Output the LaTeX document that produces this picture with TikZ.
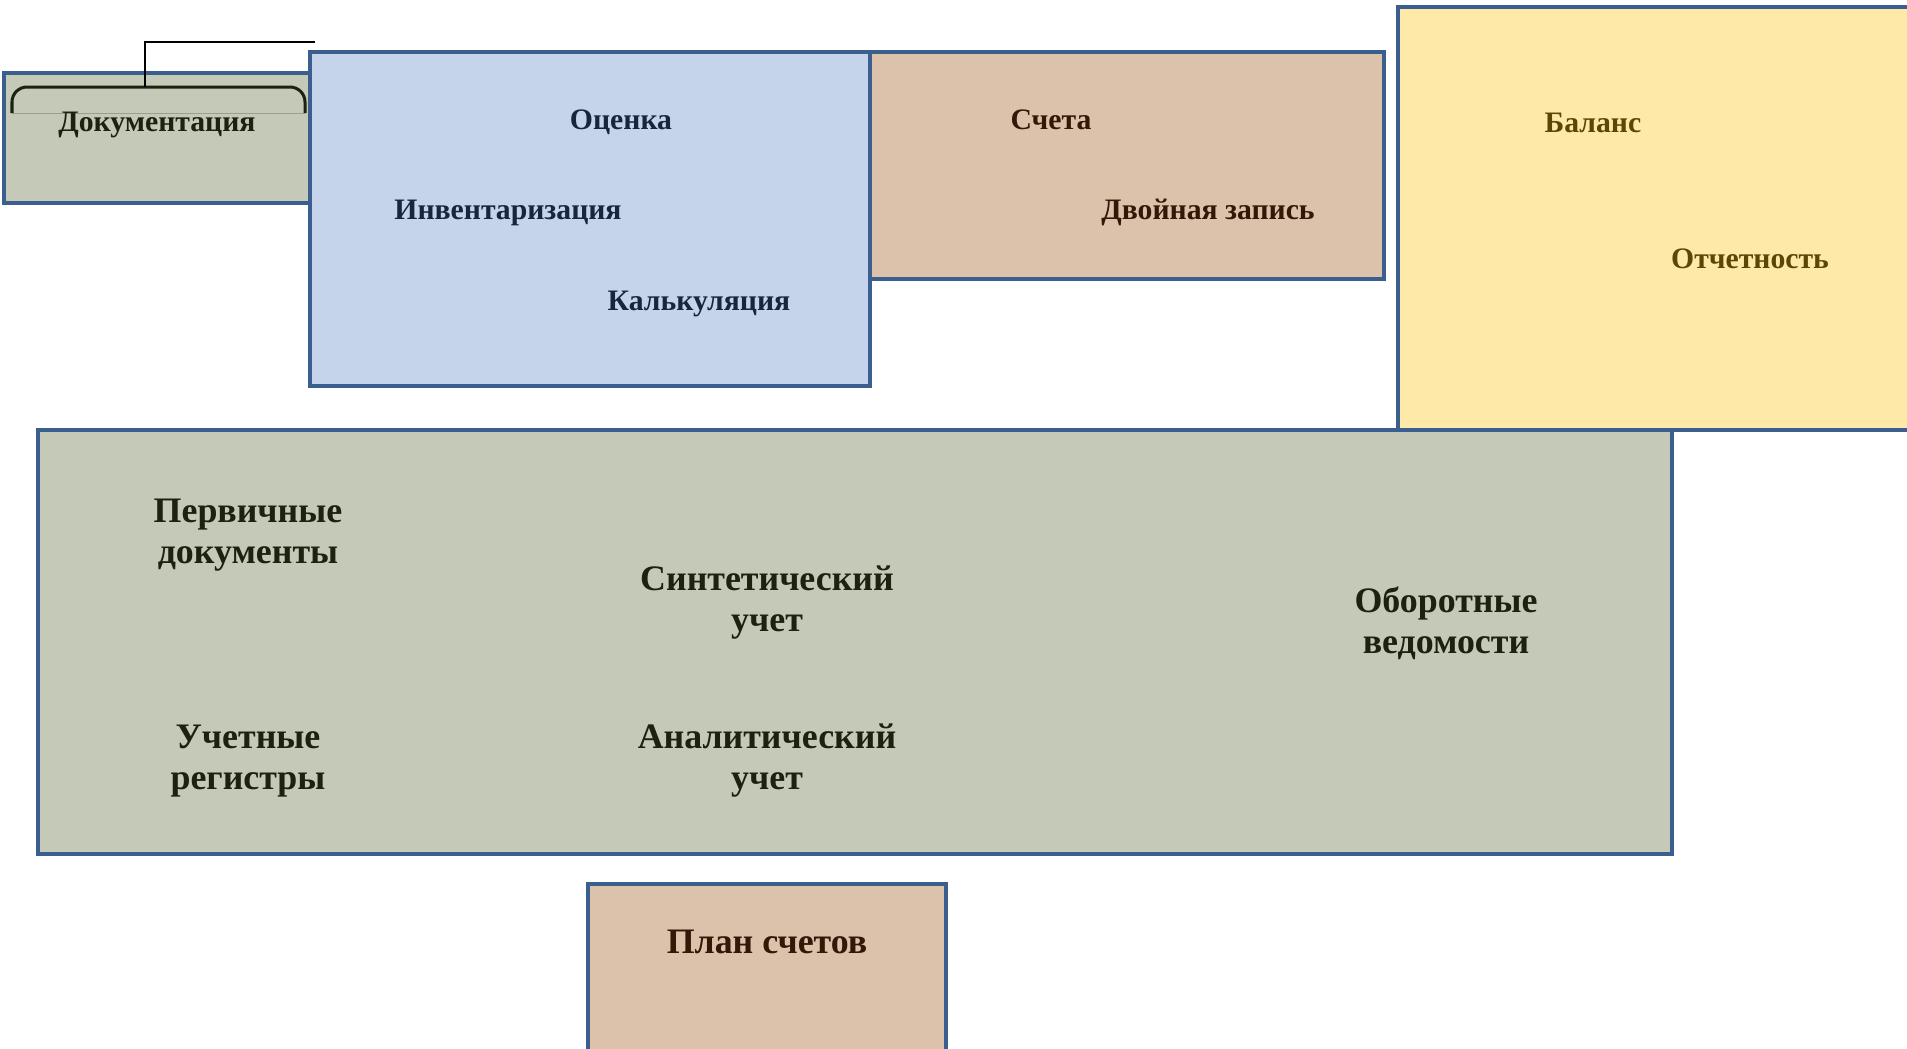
\documentclass[tikz,border=0pt]{standalone}
\usepackage{fontspec}
\setmainfont{Liberation Serif}
\definecolor{bord}{HTML}{3A5F8E}
\definecolor{fgreen}{HTML}{C5C9B7}
\definecolor{fblue}{HTML}{C5D4EA}
\definecolor{ftan}{HTML}{DCC1AB}
\definecolor{fyel}{HTML}{FFE9A8}
\definecolor{tgreen}{HTML}{1C2212}
\definecolor{tblue}{HTML}{17263D}
\definecolor{tbrown}{HTML}{331808}
\definecolor{tyel}{HTML}{5A4708}
\definecolor{thinln}{HTML}{9AA08A}
\begin{document}
\begin{tikzpicture}[x=0.01cm,y=-0.01cm,
  panel/.style={draw=bord, line width=0.04cm, rectangle, inner sep=0pt, outer sep=0pt},
  small/.style={font=\bfseries\fontsize{8.45}{10}\selectfont, inner sep=0pt, anchor=base},
  big/.style={font=\bfseries\fontsize{10.2}{11.7}\selectfont, align=center, inner sep=0pt, text height=0.7em, text depth=0.25em}]
\useasboundingbox (0,0) rectangle (1907,1048);
\clip (0,0) rectangle (1907,1048);
% panels
\node[panel, fill=fgreen, minimum width=16.33cm, minimum height=4.24cm] (main) at (854.5,642) {};
\node[panel, fill=fyel, minimum width=5.27cm, minimum height=4.23cm] (yel) at (1661.5,218.5) {};
\node[panel, fill=fgreen, minimum width=3.06cm, minimum height=1.30cm] (doc) at (157,138) {};
\node[panel, fill=fblue, minimum width=5.60cm, minimum height=3.34cm] (blue) at (590,219) {};
\node[panel, fill=ftan, minimum width=5.14cm, minimum height=2.27cm] (tan) at (1127,165.5) {};
\node[panel, fill=ftan, minimum width=3.58cm, minimum height=1.86cm] (plan) at (767,977) {};
% bracket
\coordinate (brl) at (12,113);
\coordinate (brr) at (305,113);
\coordinate (brtop) at (145,87);
\coordinate (lineend) at (315,42);
\draw[line width=0.01cm, thinln] (brl) -- (brr);
\draw[line width=0.03cm, tgreen, rounded corners=0.15cm] (brl) -- (12,87) -- (305,87) -- (brr);
\draw[line width=0.025cm, black] (brtop) -- (145,42) -- (lineend);
% texts
\node[small, text=tgreen] (t1) at (157,131) {Документация};
\node[small, text=tblue] (t2) at (621,129) {Оценка};
\node[small, text=tblue] (t3) at (508,219) {Инвентаризация};
\node[small, text=tblue] (t4) at (699,310) {Калькуляция};
\node[small, text=tbrown] (t5) at (1051,129) {Счета};
\node[small, text=tbrown] (t6) at (1208,219) {Двойная запись};
\node[small, text=tyel] (t7) at (1593,132) {Баланс};
\node[small, text=tyel] (t8) at (1750,268) {Отчетность};
\node[big, text=tgreen] (b1) at (248,556) {Первичные\\документы};
\node[big, text=tgreen] (b2) at (767,624) {Синтетический\\учет};
\node[big, text=tgreen] (b3) at (1446,646) {Оборотные\\ведомости};
\node[big, text=tgreen] (b4) at (248,782) {Учетные\\регистры};
\node[big, text=tgreen] (b5) at (767,782) {Аналитический\\учет};
\node[big, text=tbrown, anchor=base] (b6) at (767,953) {План счетов};
\end{tikzpicture}
\end{document}
